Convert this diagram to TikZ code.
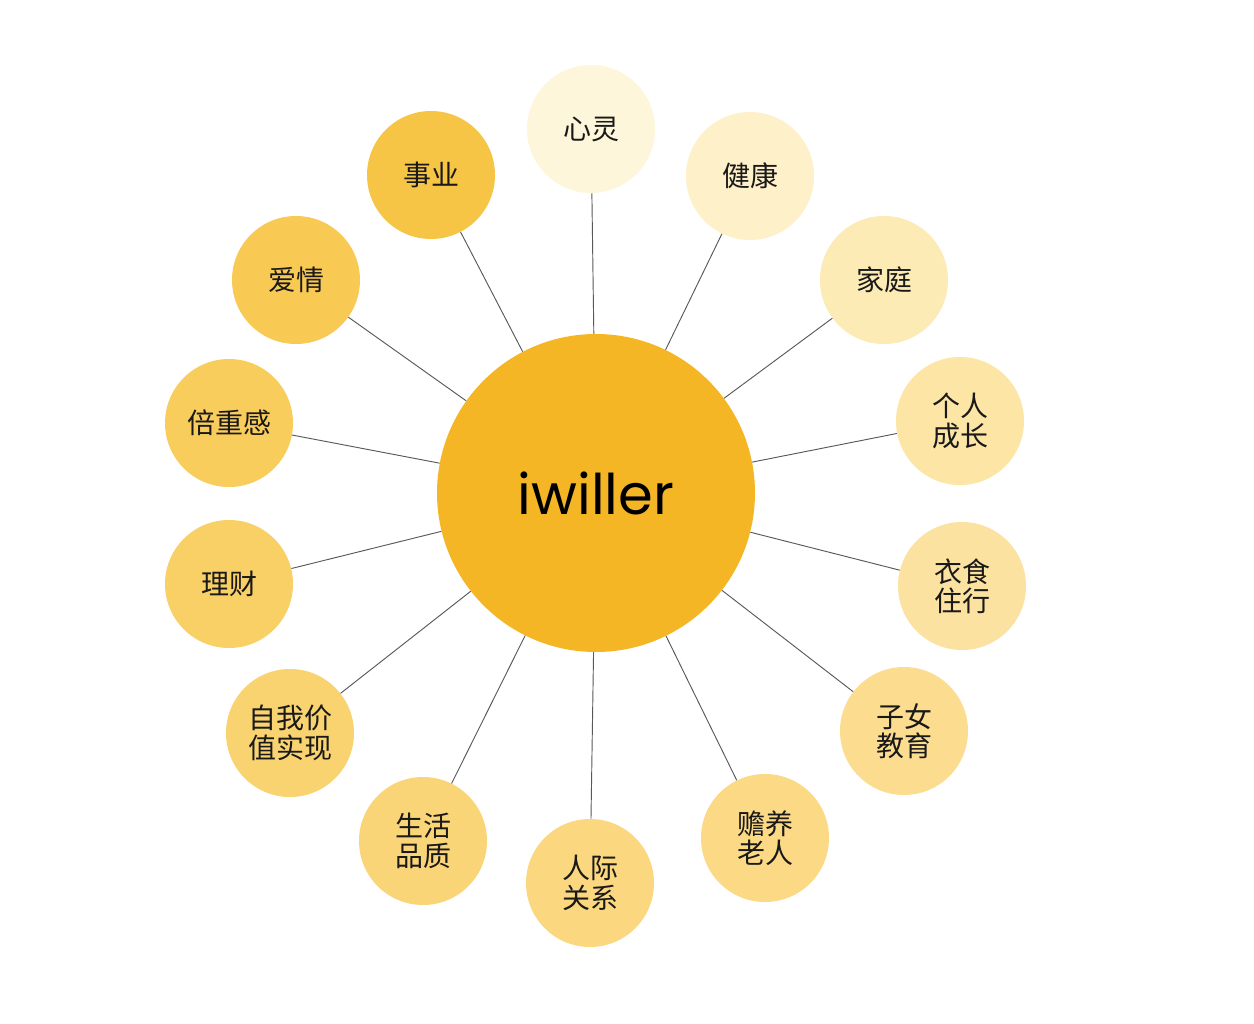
\documentclass[tikz,border=0pt]{standalone}
\usepackage{fontspec}
\newfontfamily\cjk{Noto Sans CJK SC}
\newfontfamily\pop{Poppins}
\begin{document}
\begin{tikzpicture}[x=0.75pt,y=-0.75pt,
  small/.style={circle,minimum size=128*0.75pt,inner sep=0pt,align=center,font=\cjk\fontsize{21}{22}\selectfont,text=black!90},
  link/.style={draw=black!65,line width=0.7pt}]
\useasboundingbox[fill=white] (0,0) rectangle (1254,1024);
\node[circle,fill=orange!20!yellow!80!orange,fill={rgb,255:red,245;green,182;blue,37},minimum size=318*0.75pt,inner sep=0pt,font=\pop\fontsize{42}{44}\selectfont] (c) at (596,493) {iwiller};
\foreach \n/\x/\y/\r/\g/\b/\t in {
 a/591/129/254/246/218/{心灵},
 b/750/176/254/240/200/{健康},
 d/884/280/253/235/181/{家庭},
 e/960/421/252/229/165/{个人\\成长},
 f/962/586/252/226/160/{衣食\\住行},
 g/904/731/252/221/144/{子女\\教育},
 h/765/838/251/217/133/{赡养\\老人},
 i/590/883/251/216/127/{人际\\关系},
 j/423/841/250/213/119/{生活\\品质},
 k/290/733/249/211/112/{自我价\\值实现},
 l/229/584/249/208/102/{理财},
 m/229/423/249/205/92/{倍重感},
 n/296/280/248/201/83/{爱情},
 o/431/175/247/197/69/{事业}}{
  \definecolor{col\n}{RGB}{\r,\g,\b}
  \node[small,fill=col\n] (\n) at (\x,\y) {\t};
  \draw[link] (c) -- (\n);
}
\end{tikzpicture}
\end{document}
